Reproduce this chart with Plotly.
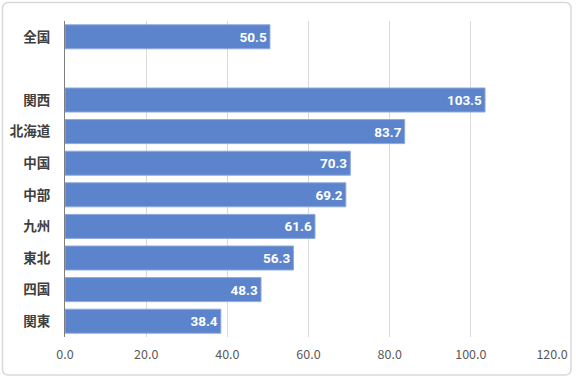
import plotly.graph_objects as go

categories = ["全国", " ", "関西", "北海道", "中国", "中部", "九州", "東北", "四国", "関東"]
values = [50.5, None, 103.5, 83.7, 70.3, 69.2, 61.6, 56.3, 48.3, 38.4]
x_ticks = [0, 20, 40, 60, 80, 100, 120]
x_tick_labels = ["0.0", "20.0", "40.0", "60.0", "80.0", "100.0", "120.0"]

labels = ["" if v is None else f"{v:.1f}" for v in values]

fig = go.Figure(go.Bar(
    y=categories, x=values, orientation="h",
    marker=dict(color="#5b84cc", line=dict(color="#8eaadb", width=1)),
    text=labels, textposition="inside", insidetextanchor="end",
    textfont=dict(color="white", size=13.5, family="Roboto, Noto Sans CJK JP", weight="bold"),
    cliponaxis=False, hoverinfo="skip",
))

W, H = 576, 378
l, r, t, b = 65, 24, 21, 41
pw, ph = W - l - r, H - t - b

def px2paper(px, py):
    return (px - l) / pw, (H - b - py) / ph

x0, y0, x1, y1, rad = 2.5, 2.5, 571, 375, 6
def P(px, py):
    a, c = px2paper(px, py)
    return f"{a:.5f},{c:.5f}"
path = (f"M {P(x0+rad,y0)} L {P(x1-rad,y0)} Q {P(x1,y0)} {P(x1,y0+rad)} "
        f"L {P(x1,y1-rad)} Q {P(x1,y1)} {P(x1-rad,y1)} "
        f"L {P(x0+rad,y1)} Q {P(x0,y1)} {P(x0,y1-rad)} "
        f"L {P(x0,y0+rad)} Q {P(x0,y0)} {P(x0+rad,y0)} Z")

fig.update_layout(
    width=W, height=H,
    margin=dict(l=l, r=r, t=t, b=b, autoexpand=False),
    paper_bgcolor="white", plot_bgcolor="white",
    bargap=0.24, showlegend=False,
    font=dict(family="Noto Sans CJK JP", size=12, color="#595959"),
    xaxis=dict(range=[0, 120], tickvals=x_ticks, ticktext=x_tick_labels,
               showgrid=True, gridcolor="#d9d9d9", gridwidth=1,
               zeroline=False, showline=False, ticks="", automargin=False,
               ticklabelstandoff=8,
               tickfont=dict(size=12.5, color="#595959", family="Noto Sans CJK JP")),
    yaxis=dict(type="category", categoryorder="array", categoryarray=categories,
               autorange="reversed", showgrid=False, zeroline=False,
               showline=True, linecolor="#7f7f7f", linewidth=1, ticks="",
               automargin=False, ticklabelstandoff=11,
               tickfont=dict(size=13.5, color="#404040", family="Noto Sans CJK JP", weight="bold")),
    shapes=[dict(type="path", xref="paper", yref="paper", path=path,
                 line=dict(color="#d9d9d9", width=1.5), fillcolor="rgba(0,0,0,0)", layer="below")],
)

fig.write_html("out.html", config={"displayModeBar": False},
               post_script="document.body.style.margin='0';document.body.style.overflow='hidden';")
